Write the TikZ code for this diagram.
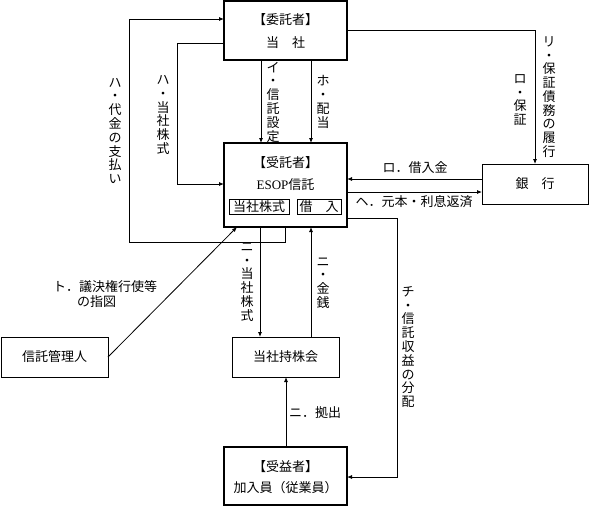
\documentclass[tikz,border=0pt]{standalone}
\usepackage{fontspec}
\setmainfont{Noto Sans CJK JP}
\newfontfamily\lat{Liberation Serif}
\usetikzlibrary{arrows.meta}
\begin{document}
\begin{tikzpicture}[x=1pt,y=-1pt,
  every node/.style={font=\fontsize{13}{13.8}\selectfont, inner sep=0pt, outer sep=0pt},
  bigbox/.style={draw, line width=1.5pt},
  smallbox/.style={draw, line width=0.8pt},
  innerbox/.style={draw, line width=0.7pt, minimum height=15pt},
  conn/.style={line width=0.8pt},
  arr/.style={conn,-{Latex[length=5pt,width=4pt]}},
  vlabel/.style={align=center}]
\useasboundingbox (0,0) rectangle (589,507);

% boxes
\node[bigbox, minimum width=123pt, minimum height=59pt] (top) at (285.5,30.5) {};
\node (topA) at (285.5,20) {【委託者】};
\node (topB) at (285.5,43) {当\quad 社};

\node[bigbox, minimum width=123pt, minimum height=84pt] (trust) at (285.5,185) {};
\node (trA) at (285.5,163) {【受託者】};
\node (trB) at (285.5,185) {{\lat ESOP}信託};
\node[innerbox, minimum width=60pt] (stock) at (259,207) {当社株式};
\node[innerbox, minimum width=44pt] (loan) at (319,207) {借\quad 入};

\node[smallbox, minimum width=106pt, minimum height=40pt] (bank) at (535,184) {銀\quad 行};
\node[smallbox, minimum width=107pt, minimum height=40pt] (admin) at (54.5,357) {信託管理人};
\node[smallbox, minimum width=107pt, minimum height=40pt] (assoc) at (285.5,357) {当社持株会};

\node[bigbox, minimum width=123pt, minimum height=58pt] (benef) at (285.5,476) {};
\node (bnA) at (285.5,467) {【受益者】};
\node (bnB) at (285.5,488) {加入員（従業員）};

% helper coordinates
\coordinate (xPay) at (129,0);
\coordinate (yPay) at (0,242);
\coordinate (yPayTop) at (0,19);
\coordinate (xPayStart) at (285,0);
\coordinate (xSh) at (177,0);
\coordinate (ySh) at (0,43);
\coordinate (yShEnd) at (0,184);
\coordinate (xI) at (261,0);
\coordinate (xHo) at (311,0);
\coordinate (yRo) at (0,179);
\coordinate (yHe) at (0,192);
\coordinate (yChi) at (0,218);
\coordinate (xChi) at (397,0);
\coordinate (yChiEnd) at (0,477);
\coordinate (yRi) at (0,30);
\coordinate (xNiA) at (260,0);
\coordinate (xNiB) at (311,0);
\coordinate (xNiC) at (286,0);
\coordinate (toTip) at (237,227);

% connectors
\draw[arr] (trust.south -| xPayStart) |- (xPay |- yPay) |- (top.west |- yPayTop);
\draw[arr] (top.west |- ySh) -| (xSh |- yShEnd) -- (trust.west |- yShEnd);
\draw[arr] (top.south -| xI) -- (trust.north -| xI);
\draw[arr] (top.south -| xHo) -- (trust.north -| xHo);
\draw[arr] (bank.west |- yRo) -- (trust.east |- yRo);
\draw[arr] (trust.east |- yHe) -- (bank.west |- yHe);
\draw[arr] (trust.east |- yChi) -| (xChi |- yChiEnd) -- (benef.east |- yChiEnd);
\draw[arr] (top.east |- yRi) -| (bank.north);
\draw[arr] (admin.east) -- (toTip);
\draw[arr] (trust.south -| xNiA) -- (assoc.north -| xNiA);
\draw[arr] (assoc.north -| xNiB) -- (trust.south -| xNiB);
\draw[arr] (benef.north -| xNiC) -- (assoc.south -| xNiC);

% labels
\node[vlabel] (lPay) at (115,131) {ハ\\・\\代\\金\\の\\支\\払\\い};
\node[vlabel] (lSh) at (163,115) {ハ\\・\\当\\社\\株\\式};
\node[vlabel] (lI) at (273,102) {イ\\・\\信\\託\\設\\定};
\node[vlabel] (lHo) at (323,102) {ホ\\・\\配\\当};
\node[vlabel] (lRoH) at (520,100) {ロ\\・\\保\\証};
\node[vlabel] (lRi) at (549,97) {リ\\・\\保\\証\\債\\務\\の\\履\\行};
\node (lRo) at (415,168) {ロ．借入金};
\node (lHe) at (414,202) {ヘ．元本・利息返済};
\node[anchor=west] (lTo1) at (53,287) {ト．議決権行使等};
\node[anchor=west] (lTo2) at (77,302) {の指図};
\node[vlabel] (lNiA) at (247,282) {ニ\\・\\当\\社\\株\\式};
\node[vlabel] (lNiB) at (323,283) {ニ\\・\\金\\銭};
\node (lNiC) at (315,413) {ニ．拠出};
\node[vlabel] (lChi) at (408,347) {チ\\・\\信\\託\\収\\益\\の\\分\\配};
\end{tikzpicture}
\end{document}
